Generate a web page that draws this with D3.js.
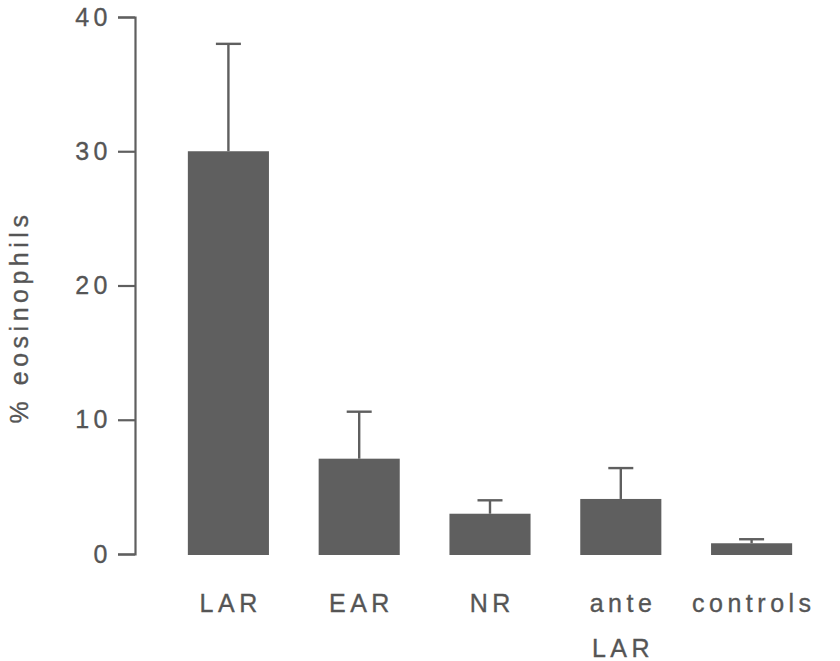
<!DOCTYPE html>
<html>
<head>
<meta charset="utf-8">
<script src="https://cdn.jsdelivr.net/npm/d3@7"></script>
<style>
  html, body { margin: 0; padding: 0; background: #ffffff; }
  svg { display: block; }
  text { font-family: "Liberation Sans", Arial, Helvetica, sans-serif; fill: #555555; stroke: #555555; stroke-width: 0.35px; }
</style>
</head>
<body>
<svg id="chart" width="840" height="661"></svg>
<script>
// Eosinophil percentages per group (mean and upper error bound)
const categories = ["LAR", "EAR", "NR", "ante LAR", "controls"];
const means = [30, 7.1, 3.0, 4.1, 0.8];
const errorTops = [38, 10.6, 4.0, 6.4, 1.1];
const yTicks = [0, 10, 20, 30, 40];
const yLabel = "% eosinophils";

const svg = d3.select("#chart");
const ink = "#5f5f5f";
const fontSize = 25;
const spacing = 4.5;

const x = d3.scaleBand()
  .domain(categories)
  .range([163, 817])
  .paddingInner(0.38)
  .paddingOuter(0.19);

const y = d3.scaleLinear()
  .domain([0, 40])
  .range([554, 17]);

const axisX = 135;

// y axis
const yAxis = svg.append("g")
  .attr("transform", `translate(${axisX},0)`)
  .call(d3.axisLeft(y).tickValues(yTicks).tickSize(17).tickPadding(6));
yAxis.selectAll("path.domain").attr("stroke", "#5f5f5f").attr("stroke-width", 2.2);
yAxis.selectAll(".tick line").attr("stroke", "#5f5f5f").attr("stroke-width", 2.2);
yAxis.selectAll(".tick text")
  .attr("fill", "#555")
  .style("font-size", fontSize + "px")
  .style("letter-spacing", spacing + "px")
  .style("font-family", "'Liberation Sans', Arial, sans-serif");

// y axis title
svg.append("text")
  .attr("transform", `translate(28,${317}) rotate(-90)`)
  .attr("text-anchor", "middle")
  .style("font-size", fontSize + "px")
  .style("letter-spacing", spacing + "px")
  .text(yLabel);

const data = categories.map((c, i) => ({ c, m: means[i], e: errorTops[i] }));

// error bars (drawn first so bars sit on top of the stem base)
const capHalf = 12.5;
const err = svg.append("g").attr("stroke", ink).attr("stroke-width", 2.4);
err.selectAll("line.stem").data(data).join("line")
  .attr("class", "stem")
  .attr("x1", d => x(d.c) + x.bandwidth() / 2)
  .attr("x2", d => x(d.c) + x.bandwidth() / 2)
  .attr("y1", d => y(d.m))
  .attr("y2", d => y(d.e));
err.selectAll("line.cap").data(data).join("line")
  .attr("class", "cap")
  .attr("x1", d => x(d.c) + x.bandwidth() / 2 - capHalf)
  .attr("x2", d => x(d.c) + x.bandwidth() / 2 + capHalf)
  .attr("y1", d => y(d.e))
  .attr("y2", d => y(d.e));

// bars
svg.append("g").selectAll("rect").data(data).join("rect")
  .attr("x", d => x(d.c))
  .attr("width", x.bandwidth())
  .attr("y", d => y(d.m))
  .attr("height", d => y(0) - y(d.m) + 1)
  .attr("fill", ink);

// category labels (multi-word labels wrap onto separate lines)
const labels = svg.append("g").selectAll("text").data(categories).join("text")
  .attr("text-anchor", "middle")
  .attr("y", 612)
  .style("font-size", fontSize + "px")
  .style("letter-spacing", spacing + "px");
labels.each(function (d) {
  const t = d3.select(this);
  const cx = x(d) + x.bandwidth() / 2 + spacing / 2;
  d.split(" ").forEach((w, i) => {
    t.append("tspan").attr("x", cx).attr("dy", i === 0 ? 0 : 45).text(w);
  });
});
</script>
</body>
</html>
